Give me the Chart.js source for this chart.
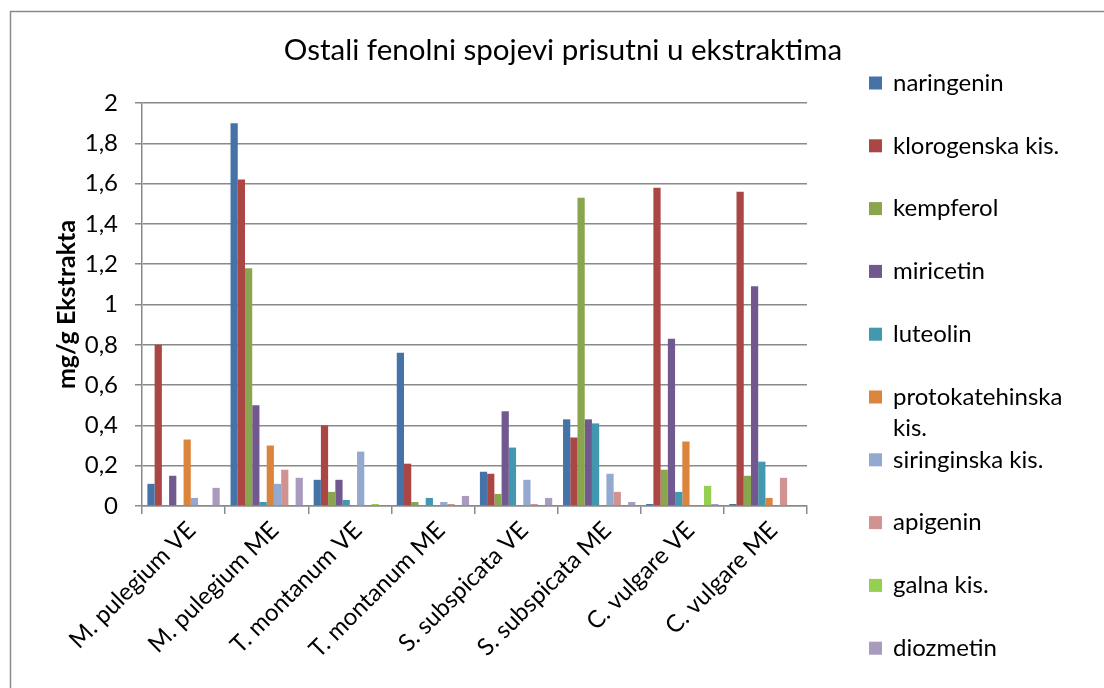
<!DOCTYPE html>
<html>
<head>
<meta charset="utf-8">
<script src="https://cdn.jsdelivr.net/npm/chart.js@4.4.1/dist/chart.umd.min.js"></script>
<style>
  html, body { margin: 0; padding: 0; background: #fff; }
  #okvir { position: relative; width: 1104px; height: 688px; }
</style>
</head>
<body>
<div id="okvir"><canvas id="fenoliChart"></canvas></div>
<script>
"use strict";

// uzorci (ekstrakti)
var uzorci = ["M. pulegium VE", "M. pulegium ME", "T. montanum VE", "T. montanum ME",
  "S. subspicata VE", "S. subspicata ME", "C. vulgare VE", "C. vulgare ME"];

// mg/g ekstrakta po spoju
var naringenin      = [0.11, 1.90, 0.13, 0.76, 0.17, 0.43, 0.01, 0.01];
var klorogenska     = [0.80, 1.62, 0.40, 0.21, 0.16, 0.34, 1.58, 1.56];
var kempferol       = [0.00, 1.18, 0.07, 0.02, 0.06, 1.53, 0.18, 0.15];
var miricetin       = [0.15, 0.50, 0.13, 0.00, 0.47, 0.43, 0.83, 1.09];
var luteolin        = [0.00, 0.02, 0.03, 0.04, 0.29, 0.41, 0.07, 0.22];
var protokatehinska = [0.33, 0.30, 0.00, 0.00, 0.00, 0.00, 0.32, 0.04];
var siringinska     = [0.04, 0.11, 0.27, 0.02, 0.13, 0.16, 0.00, 0.00];
var apigenin        = [0.00, 0.18, 0.00, 0.01, 0.01, 0.07, 0.00, 0.14];
var galna           = [0.00, 0.00, 0.01, 0.00, 0.00, 0.00, 0.10, 0.00];
var diozmetin       = [0.09, 0.14, 0.00, 0.05, 0.04, 0.02, 0.01, 0.00];

var yMin = 0;
var yMax = 2;
var yKorak = 0.2;

var serije = [
  { label: "naringenin", data: naringenin, color: "#4572a7" },
  { label: "klorogenska kis.", data: klorogenska, color: "#aa4643" },
  { label: "kempferol", data: kempferol, color: "#89a54e" },
  { label: "miricetin", data: miricetin, color: "#71588f" },
  { label: "luteolin", data: luteolin, color: "#4198af" },
  { label: "protokatehinska kis.", data: protokatehinska, color: "#db843d" },
  { label: "siringinska kis.", data: siringinska, color: "#93a9cf" },
  { label: "apigenin", data: apigenin, color: "#d19392" },
  { label: "galna kis.", data: galna, color: "#95cf52" },
  { label: "diozmetin", data: diozmetin, color: "#a99bbd" }
];

var FONT = "Lato, 'Open Sans', sans-serif";
var SIVA = "#8a8a8a";

Chart.defaults.font.family = FONT;
Chart.defaults.color = "#000";

// okvir oko cijelog grafikona + naslov + legenda
var crtanjeOkvira = {
  id: "crtanjeOkvira",
  beforeDraw: function (chart) {
    var ctx = chart.ctx;
    ctx.save();
    ctx.fillStyle = "#fff";
    ctx.fillRect(0, 0, chart.width, chart.height);
    ctx.strokeStyle = SIVA;
    ctx.lineWidth = 1.5;
    ctx.strokeRect(10.5, 11.5, chart.width + 20, chart.height + 20);
    ctx.restore();
  },
  afterDraw: function (chart) {
    var ctx = chart.ctx;
    ctx.save();

    // naslov
    ctx.fillStyle = "#000";
    ctx.font = "29.5px " + FONT;
    ctx.textAlign = "center";
    ctx.textBaseline = "middle";
    ctx.fillText("Ostali fenolni spojevi prisutni u ekstraktima", 563, 50);

    // legenda
    var lx = 869, ly = 83, korak = 62.8, kv = 13, maxW = chart.width - 900;
    ctx.font = "24px " + FONT;
    ctx.textAlign = "left";
    chart.data.datasets.forEach(function (ds, i) {
      var y = ly + i * korak;
      ctx.fillStyle = ds.backgroundColor;
      ctx.fillRect(lx, y - kv / 2, kv, kv);
      ctx.fillStyle = "#000";
      // prelamanje predugih naziva
      var rijeci = ds.label.split(" ");
      var redovi = [];
      var red = "";
      rijeci.forEach(function (r) {
        var probni = red ? red + " " + r : r;
        if (red && ctx.measureText(probni).width > maxW) {
          redovi.push(red);
          red = r;
        } else {
          red = probni;
        }
      });
      redovi.push(red);
      redovi.forEach(function (t, j) {
        ctx.fillText(t, lx + 24, y + j * 31);
      });
    });
    ctx.restore();
  }
};

var ctx = document.getElementById("fenoliChart").getContext("2d");

var fenoliChart = new Chart(ctx, {
  type: "bar",
  data: {
    labels: uzorci,
    datasets: serije.map(function (s) {
      return {
        label: s.label,
        data: s.data,
        backgroundColor: s.color,
        borderWidth: 0,
        categoryPercentage: 0.87,
        barPercentage: 1.0
      };
    })
  },
  options: {
    responsive: true,
    maintainAspectRatio: false,
    animation: false,
    layout: {
      padding: { left: 10, top: 103, right: 297, bottom: 0 }
    },
    plugins: {
      legend: { display: false },
      title: { display: false },
      tooltip: { enabled: false }
    },
    scales: {
      x: {
        grid: {
          offset: true,
          drawOnChartArea: false,
          drawTicks: true,
          tickLength: 8,
          color: SIVA,
          lineWidth: 1.5
        },
        border: { color: SIVA, width: 1.5 },
        ticks: {
          minRotation: 45,
          maxRotation: 45,
          padding: 2,
          labelOffset: 8,
          font: { size: 24 },
          color: "#000"
        },
        afterFit: function (scale) {
          scale.height = 182;
        }
      },
      y: {
        min: yMin,
        max: yMax,
        ticks: {
          stepSize: yKorak,
          padding: 17,
          font: { size: 24 },
          color: "#000",
          callback: function (v) {
            return String(Number(v.toFixed(1))).replace(".", ",");
          }
        },
        grid: {
          color: SIVA,
          lineWidth: 1.5,
          drawTicks: true,
          tickLength: 7
        },
        border: { color: SIVA, width: 1.5 },
        title: {
          display: true,
          text: "mg/g Ekstrakta",
          font: { size: 25, weight: "bold" },
          color: "#000",
          padding: { top: 42, bottom: 0 }
        },
        afterFit: function (scale) {
          scale.width = 132;
        }
      }
    }
  },
  plugins: [crtanjeOkvira]
});
</script>
</body>
</html>
